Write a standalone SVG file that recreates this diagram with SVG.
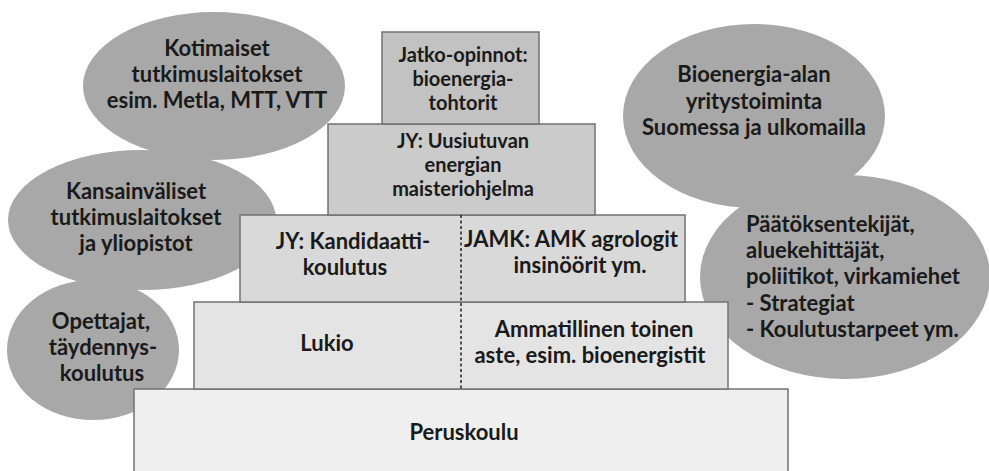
<svg xmlns="http://www.w3.org/2000/svg" width="989" height="471" viewBox="0 0 989 471">
<style>
.ell{fill:#a8a8a8;stroke:none}
.box{stroke:#727272;stroke-width:1.5}
text{font-family:Lato,"Open Sans","Liberation Sans",sans-serif;font-weight:bold;font-size:22px;fill:#1a1a1a}
.t{font-size:20px}
.c{text-anchor:middle}
</style>
<rect width="989" height="471" fill="#ffffff"/>
<g id="ellipses">
<g id="kotimaiset"><ellipse class="ell" cx="214" cy="86" rx="131" ry="74"/>
<text class="c" x="217" y="56">Kotimaiset</text><text class="c" x="217" y="82">tutkimuslaitokset</text><text class="c" x="217" y="108">esim. Metla, MTT, VTT</text></g>
<g id="kansainvaliset"><ellipse class="ell" cx="142" cy="220" rx="134" ry="70"/>
<text class="c" x="136" y="199">Kansainväliset</text><text class="c" x="136" y="225">tutkimuslaitokset</text><text class="c" x="136" y="251">ja yliopistot</text></g>
<g id="opettajat"><ellipse class="ell" cx="93" cy="350" rx="86" ry="70"/>
<text class="c" x="101" y="329">Opettajat,</text><text class="c" x="103" y="355">täydennys-</text><text class="c" x="102" y="381">koulutus</text></g>
<g id="bioenergia"><ellipse class="ell" cx="754" cy="116" rx="131" ry="92"/>
<text class="c" x="754" y="82">Bioenergia-alan</text><text class="c" x="754" y="109">yritystoiminta</text><text class="c" x="754" y="135">Suomessa ja ulkomailla</text></g>
<g id="paatoksentekijat"><ellipse class="ell" cx="845" cy="277" rx="145" ry="102"/>
<text x="746" y="232">Päätöksentekijät,</text><text x="746" y="258">aluekehittäjät,</text><text x="746" y="284">poliitikot, virkamiehet</text><text x="746" y="311">- Strategiat</text><text x="746" y="337">- Koulutustarpeet ym.</text></g>
</g>
<g id="peruskoulu"><rect class="box" x="134" y="389" width="654" height="90" fill="#efefef"/>
<text class="c" x="464" y="440">Peruskoulu</text></g>
<g id="toinen-aste"><rect class="box" x="194" y="302" width="534" height="87" fill="#e4e4e4"/>
<text class="c" x="327" y="351">Lukio</text>
<text class="c" x="594" y="337">Ammatillinen toinen</text><text class="c" x="590" y="363">aste, esim. bioenergistit</text></g>
<g id="kandidaatti"><rect class="box" x="240" y="215" width="445" height="87" fill="#d9d9d9"/>
<text class="c" x="353" y="249">JY: Kandidaatti-</text><text class="c" x="345" y="275">koulutus</text>
<text class="c" x="571" y="247">JAMK: AMK agrologit</text><text class="c" x="580" y="273">insinöörit ym.</text></g>
<g id="maisteri"><rect class="box" x="328" y="124" width="267" height="91" fill="#cbcbcb"/>
<text class="c t" x="463" y="148">JY: Uusiutuvan</text><text class="c t" x="463" y="172">energian</text><text class="c t" x="463" y="196">maisteriohjelma</text></g>
<g id="jatko"><rect class="box" x="382" y="32" width="157" height="92" fill="#c2c2c2"/>
<text class="c t" x="463" y="62">Jatko-opinnot:</text><text class="c t" x="463" y="86">bioenergia-</text><text class="c t" x="463" y="110">tohtorit</text></g>
<g id="connectors">
<line x1="461" y1="215" x2="461" y2="389" stroke="#222" stroke-width="1.5" stroke-dasharray="3,2.5"/>
</g>
</svg>
